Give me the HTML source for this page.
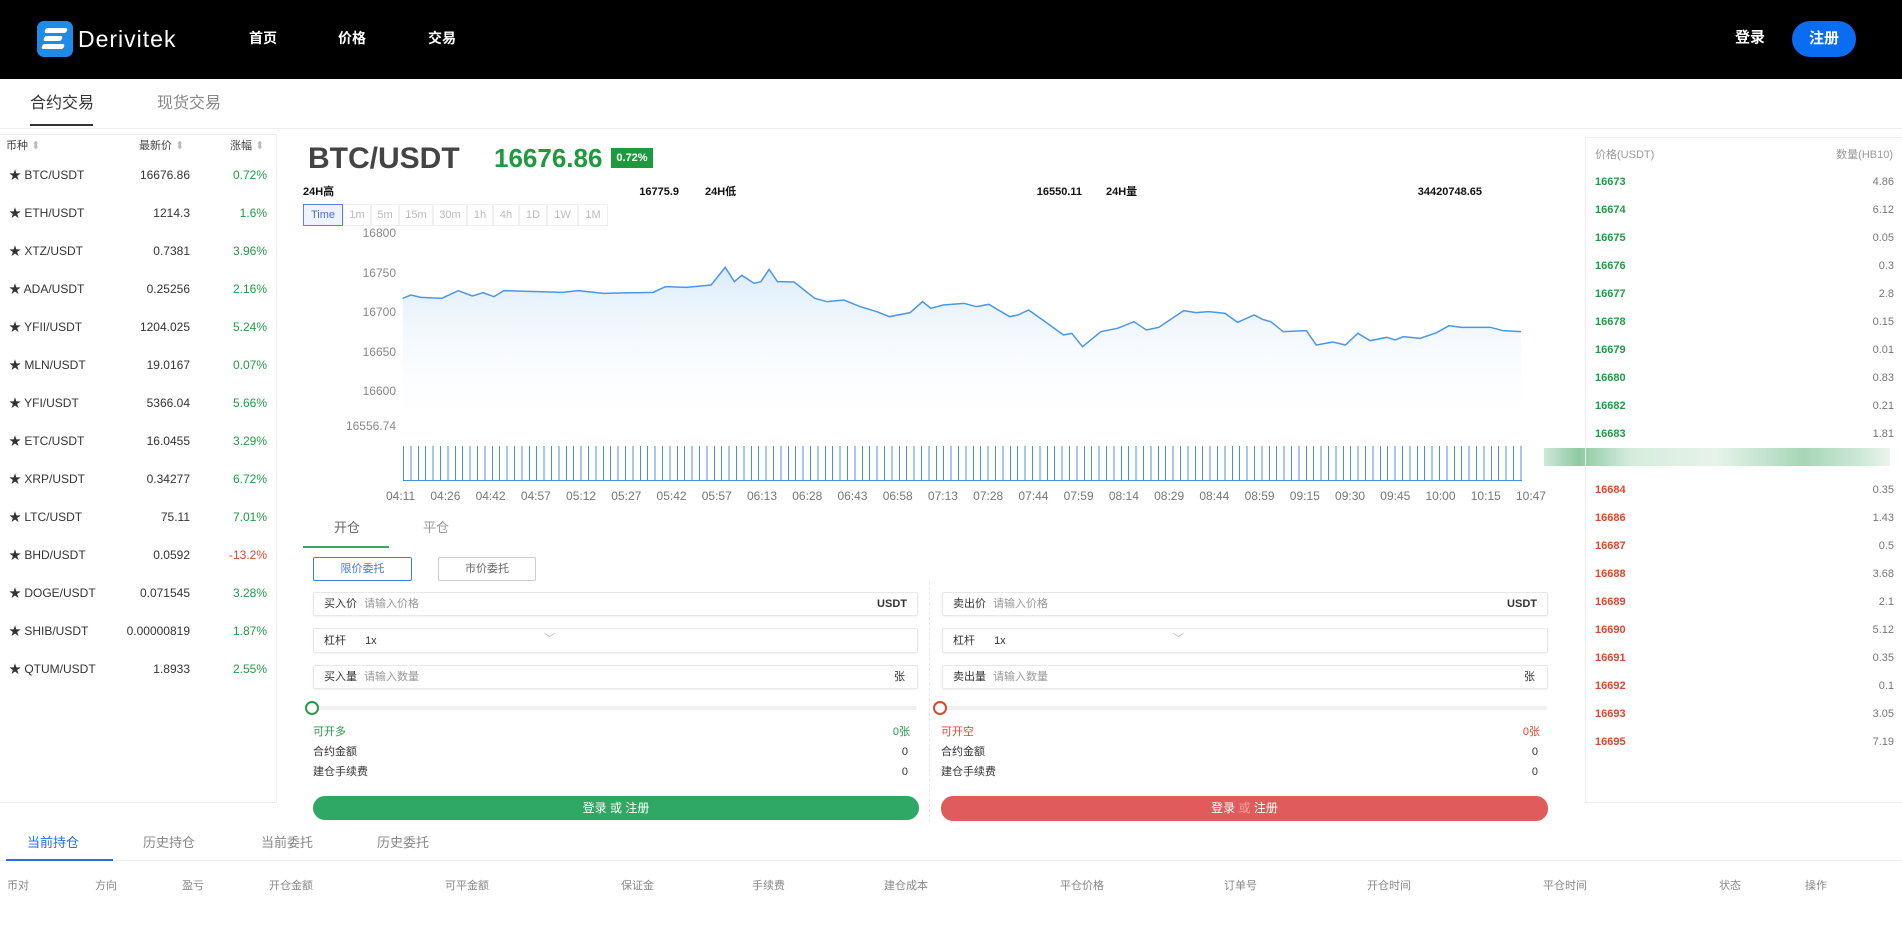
<!DOCTYPE html>
<html><head><meta charset="utf-8"><style>
*{margin:0;padding:0;box-sizing:border-box}
body{width:1902px;height:930px;position:relative;overflow:hidden;background:#fff;font-family:"Liberation Sans","Noto Sans CJK SC",sans-serif;font-size:12px;color:#333;line-height:1.2}
.a{position:absolute;white-space:nowrap}
.r{text-align:right}
.g{color:#239a45}.red{color:#d9482f}
.box{position:absolute;border:1px solid #e8e8e8;border-radius:2px;background:#fff;box-shadow:0 1px 2px rgba(0,0,0,.06)}
.s{line-height:14px}
</style></head><body>
<div class="a" style="left:0;top:0;width:1902px;height:79px;background:#000"></div>
<div class="a" style="left:37px;top:21px;width:36px;height:36px;border-radius:7px;background:#1e8be8"></div>
<div class="a" style="left:45px;top:28px;width:22px;height:5px;background:#fff;border-radius:2px;transform:skewX(-20deg)"></div>
<div class="a" style="left:44px;top:36px;width:18px;height:5px;background:#fff;border-radius:2px;transform:skewX(-20deg)"></div>
<div class="a" style="left:42px;top:44px;width:22px;height:5px;background:#fff;border-radius:2px;transform:skewX(-20deg)"></div>
<div class="a" style="left:78px;top:26px;color:#fff;font-size:23px;letter-spacing:1px">Derivitek</div>
<div class="a" style="left:249px;top:30px;color:#fff;font-size:14px;font-weight:bold">首页</div>
<div class="a" style="left:338px;top:30px;color:#fff;font-size:14px;font-weight:bold">价格</div>
<div class="a" style="left:428px;top:30px;color:#fff;font-size:14px;font-weight:bold">交易</div>
<div class="a" style="left:1735px;top:29px;color:#fff;font-size:15px;font-weight:bold">登录</div>
<div class="a" style="left:1792px;top:21px;width:64px;height:36px;border-radius:18px;background:#0a6cf2;color:#fff;font-size:15px;font-weight:bold;text-align:center;line-height:36px">注册</div>

<div class="a" style="left:30px;top:94px;font-size:16px;color:#333">合约交易</div>
<div class="a" style="left:30px;top:124px;width:63px;height:2px;background:#333"></div>
<div class="a" style="left:157px;top:94px;font-size:16px;color:#888">现货交易</div>
<div class="a" style="left:0;top:128px;width:1902px;height:1px;background:#eee"></div>

<!-- left panel -->
<div class="a" style="left:0;top:134px;width:277px;height:669px;border:1px solid #eee;border-left:none"></div>
<div class="a s" style="left:6px;top:139px;font-size:11px;color:#444">币种 <span style="color:#bbb">⬍</span></div>
<div class="a s" style="left:139px;top:139px;font-size:11px;color:#444">最新价 <span style="color:#bbb">⬍</span></div>
<div class="a s" style="left:230px;top:139px;font-size:11px;color:#444">涨幅 <span style="color:#bbb">⬍</span></div>
<div class="a s" style="left:0;top:168px;width:277px;font-size:12px">
<div style="position:relative;height:38px"><span class="a" style="left:9px">★ BTC/USDT</span><span class="a r" style="right:87px">16676.86</span><span class="a r g" style="right:10px">0.72%</span></div>
<div style="position:relative;height:38px"><span class="a" style="left:9px">★ ETH/USDT</span><span class="a r" style="right:87px">1214.3</span><span class="a r g" style="right:10px">1.6%</span></div>
<div style="position:relative;height:38px"><span class="a" style="left:9px">★ XTZ/USDT</span><span class="a r" style="right:87px">0.7381</span><span class="a r g" style="right:10px">3.96%</span></div>
<div style="position:relative;height:38px"><span class="a" style="left:9px">★ ADA/USDT</span><span class="a r" style="right:87px">0.25256</span><span class="a r g" style="right:10px">2.16%</span></div>
<div style="position:relative;height:38px"><span class="a" style="left:9px">★ YFII/USDT</span><span class="a r" style="right:87px">1204.025</span><span class="a r g" style="right:10px">5.24%</span></div>
<div style="position:relative;height:38px"><span class="a" style="left:9px">★ MLN/USDT</span><span class="a r" style="right:87px">19.0167</span><span class="a r g" style="right:10px">0.07%</span></div>
<div style="position:relative;height:38px"><span class="a" style="left:9px">★ YFI/USDT</span><span class="a r" style="right:87px">5366.04</span><span class="a r g" style="right:10px">5.66%</span></div>
<div style="position:relative;height:38px"><span class="a" style="left:9px">★ ETC/USDT</span><span class="a r" style="right:87px">16.0455</span><span class="a r g" style="right:10px">3.29%</span></div>
<div style="position:relative;height:38px"><span class="a" style="left:9px">★ XRP/USDT</span><span class="a r" style="right:87px">0.34277</span><span class="a r g" style="right:10px">6.72%</span></div>
<div style="position:relative;height:38px"><span class="a" style="left:9px">★ LTC/USDT</span><span class="a r" style="right:87px">75.11</span><span class="a r g" style="right:10px">7.01%</span></div>
<div style="position:relative;height:38px"><span class="a" style="left:9px">★ BHD/USDT</span><span class="a r" style="right:87px">0.0592</span><span class="a r red" style="right:10px">-13.2%</span></div>
<div style="position:relative;height:38px"><span class="a" style="left:9px">★ DOGE/USDT</span><span class="a r" style="right:87px">0.071545</span><span class="a r g" style="right:10px">3.28%</span></div>
<div style="position:relative;height:38px"><span class="a" style="left:9px">★ SHIB/USDT</span><span class="a r" style="right:87px">0.00000819</span><span class="a r g" style="right:10px">1.87%</span></div>
<div style="position:relative;height:38px"><span class="a" style="left:9px">★ QTUM/USDT</span><span class="a r" style="right:87px">1.8933</span><span class="a r g" style="right:10px">2.55%</span></div>
</div>

<!-- center header -->
<div class="a" style="left:308px;top:141px;font-size:30px;font-weight:bold;color:#444">BTC/USDT</div>
<div class="a g" style="left:494px;top:143px;font-size:26px;font-weight:bold;color:#1e9a3e">16676.86</div>
<div class="a" style="left:611px;top:148px;width:42px;height:20px;background:#1e9a3e;color:#fff;font-size:11px;font-weight:bold;text-align:center;line-height:20px">0.72%</div>
<div class="a s" style="left:303px;top:185px;font-size:11px;font-weight:bold;color:#111">24H高</div>
<div class="a r s" style="left:580px;width:99px;top:185px;font-size:11px;font-weight:bold;color:#111">16775.9</div>
<div class="a s" style="left:705px;top:185px;font-size:11px;font-weight:bold;color:#111">24H低</div>
<div class="a r s" style="left:980px;width:102px;top:185px;font-size:11px;font-weight:bold;color:#111">16550.11</div>
<div class="a s" style="left:1106px;top:185px;font-size:11px;font-weight:bold;color:#111">24H量</div>
<div class="a r s" style="left:1380px;width:102px;top:185px;font-size:11px;font-weight:bold;color:#111">34420748.65</div>
<div class="a" style="left:303px;top:204px;height:22px;display:flex;font-size:11px;color:#bbb;line-height:20px;text-align:center">
<div style="width:40px;border:1px solid #5a7fe0;color:#4a70d0;background:#eef3ff">Time</div>
<div style="width:28px;border:1px solid #f0f0f0">1m</div><div style="width:28px;border:1px solid #f0f0f0">5m</div><div style="width:34px;border:1px solid #f0f0f0">15m</div><div style="width:34px;border:1px solid #f0f0f0">30m</div><div style="width:26px;border:1px solid #f0f0f0">1h</div><div style="width:26px;border:1px solid #f0f0f0">4h</div><div style="width:28px;border:1px solid #f0f0f0">1D</div><div style="width:31px;border:1px solid #f0f0f0">1W</div><div style="width:30px;border:1px solid #f0f0f0">1M</div>
</div>
<!-- y labels -->
<div class="a r s" style="left:330px;width:66px;top:226px;font-size:12px;color:#888">16800</div>
<div class="a r s" style="left:330px;width:66px;top:266px;font-size:12px;color:#888">16750</div>
<div class="a r s" style="left:330px;width:66px;top:305px;font-size:12px;color:#888">16700</div>
<div class="a r s" style="left:330px;width:66px;top:345px;font-size:12px;color:#888">16650</div>
<div class="a r s" style="left:330px;width:66px;top:384px;font-size:12px;color:#888">16600</div>
<div class="a r s" style="left:330px;width:66px;top:419px;font-size:12px;color:#888">16556.74</div>
<svg class="a" style="left:280px;top:130px" width="1300" height="420" viewBox="0 0 1568 1260" preserveAspectRatio="none">
<defs><linearGradient id="gf" x1="0" y1="0" x2="0" y2="1"><stop offset="0" stop-color="#dcecfa"/><stop offset="1" stop-color="#ffffff" stop-opacity="0"/></linearGradient></defs>
<path d="M148,505 L158,495 170,502 195,505 215,482 232,498 245,488 258,500 270,482 300,484 340,487 360,482 390,490 450,487 465,470 490,472 520,465 537,412 548,455 557,436 572,460 580,455 590,418 600,455 620,456 645,505 660,515 680,510 700,530 720,545 735,560 760,548 775,515 785,535 800,525 825,520 840,530 855,523 880,560 890,555 903,540 920,570 945,615 955,610 968,650 990,605 1010,595 1030,575 1045,600 1060,592 1090,542 1105,548 1120,545 1140,550 1155,577 1175,555 1185,568 1195,575 1210,605 1238,602 1250,645 1270,636 1285,645 1300,610 1315,632 1335,622 1345,630 1355,620 1375,625 1395,608 1410,587 1425,592 1460,592 1475,602 1497,605 L1497,900 L148,900 Z" fill="url(#gf)"/>
<path d="M148,505 L158,495 170,502 195,505 215,482 232,498 245,488 258,500 270,482 300,484 340,487 360,482 390,490 450,487 465,470 490,472 520,465 537,412 548,455 557,436 572,460 580,455 590,418 600,455 620,456 645,505 660,515 680,510 700,530 720,545 735,560 760,548 775,515 785,535 800,525 825,520 840,530 855,523 880,560 890,555 903,540 920,570 945,615 955,610 968,650 990,605 1010,595 1030,575 1045,600 1060,592 1090,542 1105,548 1120,545 1140,550 1155,577 1175,555 1185,568 1195,575 1210,605 1238,602 1250,645 1270,636 1285,645 1300,610 1315,632 1335,622 1345,630 1355,620 1375,625 1395,608 1410,587 1425,592 1460,592 1475,602 1497,605" fill="none" stroke="#4a97e8" stroke-width="1.5" vector-effect="non-scaling-stroke"/>
</svg>
<div class="a" style="left:403px;top:446px;width:1119px;height:35px;background:repeating-linear-gradient(90deg,#4a90e2 0 1px,transparent 1px 7.4px)"></div>
<div class="a" style="left:403px;top:480px;width:1119px;height:1px;background:#4a90e2"></div>
<div class="a s" style="left:386px;top:489px;width:1160px;display:flex;justify-content:space-between;font-size:12px;color:#777">
<span>04:11</span><span>04:26</span><span>04:42</span><span>04:57</span><span>05:12</span><span>05:27</span><span>05:42</span><span>05:57</span><span>06:13</span><span>06:28</span><span>06:43</span><span>06:58</span><span>07:13</span><span>07:28</span><span>07:44</span><span>07:59</span><span>08:14</span><span>08:29</span><span>08:44</span><span>08:59</span><span>09:15</span><span>09:30</span><span>09:45</span><span>10:00</span><span>10:15</span><span>10:47</span></div>
<div class="a" style="left:1544px;top:448px;width:346px;height:18px;background:linear-gradient(90deg,#cfe8d8,#8ccaa2 10%,#d6ecdd 25%,#e6f3ea 50%,#a6d7b6 75%,#c9e6d3 90%,#eaf5ee)"></div>

<div class="a s" style="left:334px;top:521px;font-size:13px;color:#666">开仓</div>
<div class="a s" style="left:423px;top:521px;font-size:13px;color:#999">平仓</div>
<div class="a" style="left:303px;top:546px;width:86px;height:2px;background:#3aa860"></div>

<div class="a" style="left:313px;top:557px;width:99px;height:24px;border:1px solid #3b7fe0;color:#3b7fe0;font-size:11px;text-align:center;line-height:22px;border-radius:2px">限价委托</div>
<div class="a" style="left:438px;top:557px;width:98px;height:24px;border:1px solid #ccc;color:#666;font-size:11px;text-align:center;line-height:22px;border-radius:2px">市价委托</div>
<div class="a" style="left:929px;top:582px;height:240px;border-left:1px dashed #e6e6e6"></div>

<div class="box s" style="left:313px;top:592px;width:605px;height:24px"><span class="a" style="left:10px;top:4px;font-size:11px">买入价 <span style="color:#999;margin-left:4px">请输入价格</span></span><span class="a" style="right:10px;top:4px;font-size:11px;font-weight:bold">USDT</span></div>
<div class="box s" style="left:313px;top:628px;width:605px;height:25px"><span class="a" style="left:10px;top:5px;font-size:11px">杠杆 <span style="margin-left:16px">1x</span></span><span class="a" style="left:230px;top:3px;color:#bbb;font-size:11px">﹀</span></div>
<div class="box s" style="left:313px;top:665px;width:605px;height:24px"><span class="a" style="left:10px;top:4px;font-size:11px">买入量 <span style="color:#999;margin-left:4px">请输入数量</span></span><span class="a" style="right:12px;top:4px;font-size:11px">张</span></div>
<div class="box s" style="left:942px;top:592px;width:606px;height:24px"><span class="a" style="left:10px;top:4px;font-size:11px">卖出价 <span style="color:#999;margin-left:4px">请输入价格</span></span><span class="a" style="right:10px;top:4px;font-size:11px;font-weight:bold">USDT</span></div>
<div class="box s" style="left:942px;top:628px;width:606px;height:25px"><span class="a" style="left:10px;top:5px;font-size:11px">杠杆 <span style="margin-left:16px">1x</span></span><span class="a" style="left:230px;top:3px;color:#bbb;font-size:11px">﹀</span></div>
<div class="box s" style="left:942px;top:665px;width:606px;height:24px"><span class="a" style="left:10px;top:4px;font-size:11px">卖出量 <span style="color:#999;margin-left:4px">请输入数量</span></span><span class="a" style="right:12px;top:4px;font-size:11px">张</span></div>

<div class="a" style="left:312px;top:706px;width:605px;height:4px;background:#f0f0f0;border-radius:2px"></div>
<div class="a" style="left:941px;top:706px;width:606px;height:4px;background:#f0f0f0;border-radius:2px"></div>
<div class="a" style="left:305px;top:701px;width:14px;height:14px;border:2px solid #2a9a4a;border-radius:50%;background:#fff"></div>
<div class="a" style="left:933px;top:701px;width:14px;height:14px;border:2px solid #d9482f;border-radius:50%;background:#fff"></div>

<div class="a g s" style="left:313px;top:725px;font-size:11px">可开多</div><div class="a r g s" style="left:800px;width:110px;top:725px;font-size:11px">0张</div>
<div class="a s" style="left:313px;top:745px;font-size:11px">合约金额</div><div class="a r s" style="left:800px;width:108px;top:745px;font-size:11px">0</div>
<div class="a s" style="left:313px;top:765px;font-size:11px">建仓手续费</div><div class="a r s" style="left:800px;width:108px;top:765px;font-size:11px">0</div>
<div class="a red s" style="left:941px;top:725px;font-size:11px">可开空</div><div class="a r red s" style="left:1430px;width:110px;top:725px;font-size:11px">0张</div>
<div class="a s" style="left:941px;top:745px;font-size:11px">合约金额</div><div class="a r s" style="left:1430px;width:108px;top:745px;font-size:11px">0</div>
<div class="a s" style="left:941px;top:765px;font-size:11px">建仓手续费</div><div class="a r s" style="left:1430px;width:108px;top:765px;font-size:11px">0</div>

<div class="a" style="left:313px;top:796px;width:606px;height:24px;border-radius:12px;background:#2ea862;color:#fff;font-size:12px;text-align:center;line-height:24px">登录 或 注册</div>
<div class="a" style="left:941px;top:796px;width:607px;height:25px;border-radius:12px;background:#e05c5c;color:#fff;font-size:12px;text-align:center;line-height:25px">登录 <span style="color:#f2a0a0">或</span> 注册</div>

<!-- right order book -->
<div class="a" style="left:1585px;top:137px;width:317px;height:666px;border:1px solid #eee;border-right:none"></div>
<div class="a s" style="left:1595px;top:148px;font-size:11px;color:#999">价格(USDT)</div>
<div class="a r s" style="left:1780px;width:113px;top:148px;font-size:11px;color:#999">数量(HB10)</div>
<div class="a" style="left:1595px;top:168px;width:299px;font-size:11px;line-height:28px">
<div style="display:flex;justify-content:space-between"><b class="g">16673</b><span style="color:#777">4.86</span></div>
<div style="display:flex;justify-content:space-between"><b class="g">16674</b><span style="color:#777">6.12</span></div>
<div style="display:flex;justify-content:space-between"><b class="g">16675</b><span style="color:#777">0.05</span></div>
<div style="display:flex;justify-content:space-between"><b class="g">16676</b><span style="color:#777">0.3</span></div>
<div style="display:flex;justify-content:space-between"><b class="g">16677</b><span style="color:#777">2.8</span></div>
<div style="display:flex;justify-content:space-between"><b class="g">16678</b><span style="color:#777">0.15</span></div>
<div style="display:flex;justify-content:space-between"><b class="g">16679</b><span style="color:#777">0.01</span></div>
<div style="display:flex;justify-content:space-between"><b class="g">16680</b><span style="color:#777">0.83</span></div>
<div style="display:flex;justify-content:space-between"><b class="g">16682</b><span style="color:#777">0.21</span></div>
<div style="display:flex;justify-content:space-between"><b class="g">16683</b><span style="color:#777">1.81</span></div>
</div>
<div class="a" style="left:1595px;top:476px;width:299px;font-size:11px;line-height:28px">
<div style="display:flex;justify-content:space-between"><b class="red">16684</b><span style="color:#777">0.35</span></div>
<div style="display:flex;justify-content:space-between"><b class="red">16686</b><span style="color:#777">1.43</span></div>
<div style="display:flex;justify-content:space-between"><b class="red">16687</b><span style="color:#777">0.5</span></div>
<div style="display:flex;justify-content:space-between"><b class="red">16688</b><span style="color:#777">3.68</span></div>
<div style="display:flex;justify-content:space-between"><b class="red">16689</b><span style="color:#777">2.1</span></div>
<div style="display:flex;justify-content:space-between"><b class="red">16690</b><span style="color:#777">5.12</span></div>
<div style="display:flex;justify-content:space-between"><b class="red">16691</b><span style="color:#777">0.35</span></div>
<div style="display:flex;justify-content:space-between"><b class="red">16692</b><span style="color:#777">0.1</span></div>
<div style="display:flex;justify-content:space-between"><b class="red">16693</b><span style="color:#777">3.05</span></div>
<div style="display:flex;justify-content:space-between"><b class="red">16695</b><span style="color:#777">7.19</span></div>
</div>

<!-- bottom -->
<div class="a s" style="left:27px;top:836px;font-size:13px;color:#2a6fd6">当前持仓</div>
<div class="a s" style="left:143px;top:836px;font-size:13px;color:#888">历史持仓</div>
<div class="a s" style="left:261px;top:836px;font-size:13px;color:#888">当前委托</div>
<div class="a s" style="left:377px;top:836px;font-size:13px;color:#888">历史委托</div>
<div class="a" style="left:0;top:860px;width:1902px;height:1px;background:#f0f0f0"></div>
<div class="a" style="left:6px;top:859px;width:107px;height:2px;background:#2a6fd6"></div>
<div class="a s" style="left:0;top:879px;font-size:11px;color:#888;width:1902px">
<span class="a" style="left:7px">币对</span><span class="a" style="left:95px">方向</span><span class="a" style="left:182px">盈亏</span><span class="a" style="left:269px">开仓金额</span><span class="a" style="left:445px">可平金额</span><span class="a" style="left:621px">保证金</span><span class="a" style="left:752px">手续费</span><span class="a" style="left:884px">建仓成本</span><span class="a" style="left:1060px">平仓价格</span><span class="a" style="left:1224px">订单号</span><span class="a" style="left:1367px">开仓时间</span><span class="a" style="left:1543px">平仓时间</span><span class="a" style="left:1719px">状态</span><span class="a" style="left:1805px">操作</span>
</div>
</body></html>
